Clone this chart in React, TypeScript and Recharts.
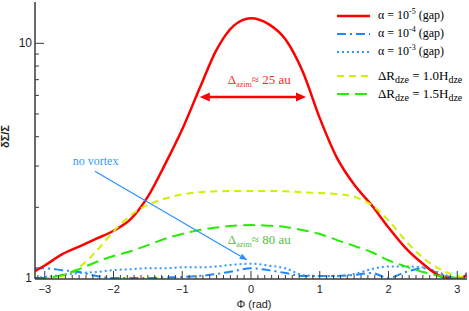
import React from 'react';
import { ComposedChart, Line, XAxis, YAxis, Legend, ReferenceLine, ReferenceDot, Label } from 'recharts';

// azimuthal angle (rad)
const PHI = [-3.14, -3.0, -2.75, -2.5, -2.25, -2.0, -1.75, -1.5, -1.25, -1.0, -0.75, -0.5, -0.25, 0, 0.25, 0.5, 0.75, 1.0, 1.25, 1.5, 1.75, 2.0, 2.25, 2.5, 2.75, 3.0, 3.14];
// alpha = 1e-5 (gap)
const GAP5 = [1.07, 1.13, 1.26, 1.36, 1.47, 1.59, 1.78, 2.22, 3.05, 4.3, 6.4, 9.4, 11.9, 12.8, 12.1, 10.4, 7.6, 4.8, 3.25, 2.5, 2.05, 1.64, 1.34, 1.15, 1.02, 0.99, 1.03];
// alpha = 1e-4 (gap)
const GAP4 = [1.10, 1.10, 1.08, 1.06, 1.02, 1.0, 1.0, 1.0, 1.005, 1.01, 1.02, 1.04, 1.07, 1.10, 1.08, 1.05, 1.02, 1.02, 1.02, 1.03, 1.05, 1.0, 1.06, 1.10, 1.04, 1.0, 1.05];
// alpha = 1e-3 (gap)
const GAP3 = [1.0, 1.01, 1.03, 1.05, 1.06, 1.08, 1.09, 1.10, 1.10, 1.11, 1.11, 1.12, 1.14, 1.15, 1.13, 1.10, 1.03, 1.02, 1.02, 1.04, 1.09, 1.12, 1.12, 1.11, 1.05, 1.0, 1.01];
// dR_dze = 1.0 H_dze
const DZE10 = [1.0, 1.0, 1.02, 1.11, 1.30, 1.58, 1.85, 2.05, 2.18, 2.27, 2.32, 2.34, 2.35, 2.35, 2.35, 2.34, 2.32, 2.30, 2.28, 2.22, 2.05, 1.76, 1.44, 1.22, 1.09, 1.02, 1.0];
// dR_dze = 1.5 H_dze
const DZE15 = [1.0, 1.0, 1.03, 1.09, 1.17, 1.24, 1.30, 1.38, 1.47, 1.54, 1.60, 1.64, 1.67, 1.68, 1.67, 1.65, 1.60, 1.54, 1.45, 1.37, 1.29, 1.19, 1.12, 1.06, 1.02, 1.0, 1.0];

const X_MAJOR = [-3, -2, -1, 0, 1, 2, 3];
const X_TICKS: number[] = [];
for (let i = -31; i <= 31; i++) X_TICKS.push(i / 10);
const Y_TICKS = [1, 2, 3, 4, 5, 6, 7, 8, 9, 10];
const Y_LABELED = [1, 10];
const X_DOMAIN = [-Math.PI, Math.PI];
const Y_DOMAIN = [0.99, 15];

// annotations (data coordinates)
const RED_ARROW = [{ x: -0.745, y: 5.9 }, { x: 0.8, y: 5.9 }];
const BLUE_ARROW = [{ x: -2.27, y: 2.85 }, { x: -0.05, y: 1.19 }];
const RED_TEXT = { x: 0.12, y: 6.7, main: '25 au' };
const GREEN_TEXT = { x: 0.12, y: 1.40, main: '80 au' };
const BLUE_TEXT = { x: -2.26, y: 3.03, text: 'no vortex' };

const data = PHI.map((p, i) => ({ phi: p, gap5: GAP5[i], gap4: GAP4[i], gap3: GAP3[i], dze10: DZE10[i], dze15: DZE15[i] }));

const SERIES = [
  { key: 'gap5', color: '#ff0000', width: 2.5, dash: undefined, kind: 'alpha', exp: '-5' },
  { key: 'gap4', color: '#1e88ff', width: 2, dash: '9 4 2 4', kind: 'alpha', exp: '-4' },
  { key: 'gap3', color: '#3399ff', width: 2, dash: '2 3', kind: 'alpha', exp: '-3' },
  { key: 'dze10', color: '#ccf200', width: 2, dash: '7 5', kind: 'dze', val: '1.0' },
  { key: 'dze15', color: '#22ee00', width: 2, dash: '12 6', kind: 'dze', val: '1.5' },
];
const DRAW_ORDER = ['gap4', 'gap3', 'gap5', 'dze10', 'dze15'];

const AX = '#3a3a3a';
const SANS = 'Liberation Sans, Arial, sans-serif';
const SERIF = 'Liberation Serif, Times New Roman, serif';

const fmtX = (v: number) => (v < 0 ? '\u2212' + Math.abs(v) : String(v));
const isMajorX = (v: number) => X_MAJOR.some((m) => Math.abs(m - v) < 1e-6);

const BottomTick = (p: any) => {
  const { x, y, payload } = p;
  const major = isMajorX(payload.value);
  return (
    <g>
      <line x1={x} x2={x} y1={y} y2={y - (major ? 8 : 4)} stroke={AX} strokeWidth={1} />
      {major && (
        <text x={x} y={y + 14} textAnchor="middle" fontSize={11} fontFamily={SANS} fill="#222">
          {fmtX(payload.value)}
        </text>
      )}
    </g>
  );
};
const TopTick = (p: any) => {
  const { x, y, payload } = p;
  const major = isMajorX(payload.value);
  return <line x1={x} x2={x} y1={y} y2={y + (major ? 8 : 4)} stroke={AX} strokeWidth={1} />;
};
const LeftTick = (p: any) => {
  const { x, y, payload } = p;
  const major = Y_LABELED.includes(payload.value);
  return (
    <g>
      <line x1={x} x2={x + (major ? 9 : 4)} y1={y} y2={y} stroke={AX} strokeWidth={1} />
      {major && (
        <text x={x - 3} y={y + 4} textAnchor="end" fontSize={12} fontFamily={SANS} fill="#222">
          {payload.value}
        </text>
      )}
    </g>
  );
};
const RightTick = (p: any) => {
  const { x, y, payload } = p;
  const major = Y_LABELED.includes(payload.value);
  return <line x1={x} x2={x - (major ? 9 : 4)} y1={y} y2={y} stroke={AX} strokeWidth={1} />;
};

const DoubleArrow = (p: any) => {
  const { x1, y1, x2, y2 } = p;
  const h = 10, w = 4.5;
  return (
    <g>
      <line x1={x1 + h - 2} y1={y1} x2={x2 - h + 2} y2={y2} stroke="#ff0000" strokeWidth={2.5} />
      <polygon points={`${x1},${y1} ${x1 + h},${y1 - w} ${x1 + h},${y1 + w}`} fill="#ff0000" />
      <polygon points={`${x2},${y2} ${x2 - h},${y2 - w} ${x2 - h},${y2 + w}`} fill="#ff0000" />
    </g>
  );
};
const SingleArrow = (p: any) => {
  const { x1, y1, x2, y2 } = p;
  const a = Math.atan2(y2 - y1, x2 - x1);
  const h = 8, w = 3;
  const bx = x2 - h * Math.cos(a), by = y2 - h * Math.sin(a);
  const px = -Math.sin(a) * w, py = Math.cos(a) * w;
  return (
    <g>
      <line x1={x1} y1={y1} x2={bx} y2={by} stroke="#2e90ff" strokeWidth={1.2} />
      <polygon points={`${x2},${y2} ${bx + px},${by + py} ${bx - px},${by - py}`} fill="#2e90ff" />
    </g>
  );
};

const deltaLabel = (color: string, main: string) => (props: any) => {
  const vb = props.viewBox || {};
  const cx = vb.x + (vb.width || 0) / 2;
  const cy = vb.y + (vb.height || 0) / 2;
  return (
    <text x={cx} y={cy} textAnchor="middle" fontSize={13} fontFamily={SERIF} fill={color}>
      {'\u0394'}
      <tspan fontSize={8} dy={3}>azim</tspan>
      <tspan dy={-3}>{'\u2248 ' + main}</tspan>
    </text>
  );
};
const plainLabel = (color: string, txt: string) => (props: any) => {
  const vb = props.viewBox || {};
  const cx = vb.x + (vb.width || 0) / 2;
  const cy = vb.y + (vb.height || 0) / 2;
  return (
    <text x={cx} y={cy} textAnchor="middle" fontSize={12} fontFamily={SERIF} fill={color}>
      {txt}
    </text>
  );
};

const renderLegend = () => (
  <div style={{ fontFamily: SERIF, fontSize: 12, color: '#000' }}>
    {SERIES.map((s, i) => (
      <div key={s.key} style={{ display: 'flex', alignItems: 'center', height: 18, marginTop: i === 3 ? 6 : 0, whiteSpace: 'nowrap' }}>
        <svg width={43} height={18} style={{ flex: 'none' }}>
          <line x1={2} x2={35} y1={9} y2={9} stroke={s.color} strokeWidth={s.width} strokeDasharray={s.dash} />
        </svg>
        {s.kind === 'alpha' ? (
          <span>
            {'\u03b1 = 10'}
            <span style={{ fontSize: 8, position: 'relative', top: -5 }}>{s.exp}</span>
            {' (gap)'}
          </span>
        ) : (
          <span style={{ fontSize: 13 }}>
            {'\u0394R'}
            <span style={{ fontSize: 10, position: 'relative', top: 3 }}>dze</span>
            {' = ' + s.val + 'H'}
            <span style={{ fontSize: 10, position: 'relative', top: 3 }}>dze</span>
          </span>
        )}
      </div>
    ))}
  </div>
);

const YLabel = (props: any) => {
  const vb = props.viewBox;
  const cx = vb.x + 9;
  const cy = vb.y + vb.height / 2 - 4;
  return (
    <text transform={`translate(${cx},${cy}) rotate(-90)`} textAnchor="middle" fontSize={11} fontWeight="bold" fontFamily={SANS} fill="#222">
      {'\u03b4\u03a3/\u03a3'}
    </text>
  );
};
const XLabel = (props: any) => {
  const vb = props.viewBox;
  return (
    <text x={vb.x + vb.width / 2 + 3} y={vb.y + 29} textAnchor="middle" fontSize={11} fontFamily={SANS} fill="#222">
      {'\u03a6 (rad)'}
    </text>
  );
};

export default function App() {
  return (
    <div style={{ position: 'absolute', left: 0, top: 0, width: 469, height: 311, background: '#fff' }}>
      <ComposedChart width={469} height={311} data={data} margin={{ top: 2, right: 2, left: 0, bottom: 0 }}>
        <XAxis
          dataKey="phi"
          type="number"
          domain={X_DOMAIN}
          allowDataOverflow
          ticks={X_TICKS}
          interval={0}
          tick={<BottomTick />}
          tickLine={false}
          tickSize={0}
          tickMargin={0}
          height={32}
          axisLine={{ stroke: AX, strokeWidth: 1.5 }}
          label={<Label content={<XLabel />} />}
        />
        <XAxis
          xAxisId="top"
          orientation="top"
          dataKey="phi"
          type="number"
          domain={X_DOMAIN}
          allowDataOverflow
          ticks={X_TICKS}
          interval={0}
          tick={<TopTick />}
          tickLine={false}
          tickSize={0}
          tickMargin={0}
          height={0}
          axisLine={{ stroke: AX, strokeWidth: 1.5 }}
        />
        <YAxis
          type="number"
          scale="log"
          domain={Y_DOMAIN}
          allowDataOverflow
          ticks={Y_TICKS}
          interval={0}
          tick={<LeftTick />}
          tickLine={false}
          tickSize={0}
          tickMargin={0}
          width={35}
          axisLine={{ stroke: AX, strokeWidth: 1.5 }}
          label={<Label content={<YLabel />} />}
        />
        <YAxis
          yAxisId="right"
          orientation="right"
          type="number"
          scale="log"
          domain={Y_DOMAIN}
          allowDataOverflow
          ticks={Y_TICKS}
          interval={0}
          tick={<RightTick />}
          tickLine={false}
          tickSize={0}
          tickMargin={0}
          width={0}
          axisLine={{ stroke: AX, strokeWidth: 1.5 }}
        />
        {DRAW_ORDER.map((k) => {
          const s = SERIES.find((q) => q.key === k)!;
          return (
            <Line
              key={k}
              dataKey={k}
              type="monotone"
              stroke={s.color}
              strokeWidth={s.width}
              strokeDasharray={s.dash}
              dot={false}
              activeDot={false}
              isAnimationActive={false}
            />
          );
        })}
        <ReferenceLine segment={RED_ARROW} shape={<DoubleArrow />} ifOverflow="visible" />
        <ReferenceLine segment={BLUE_ARROW} shape={<SingleArrow />} ifOverflow="visible" />
        <ReferenceDot x={RED_TEXT.x} y={RED_TEXT.y} r={0} fill="none" stroke="none" ifOverflow="visible" label={<Label content={deltaLabel('#ff2a2a', RED_TEXT.main)} />} />
        <ReferenceDot x={GREEN_TEXT.x} y={GREEN_TEXT.y} r={0} fill="none" stroke="none" ifOverflow="visible" label={<Label content={deltaLabel('#55c040', GREEN_TEXT.main)} />} />
        <ReferenceDot x={BLUE_TEXT.x} y={BLUE_TEXT.y} r={0} fill="none" stroke="none" ifOverflow="visible" label={<Label content={plainLabel('#3399ff', BLUE_TEXT.text)} />} />
        <Legend
          content={renderLegend}
          layout="vertical"
          align="center"
          verticalAlign="middle"
          wrapperStyle={{ left: 335, top: 6.7, width: 140, bottom: 'auto', right: 'auto' }}
        />
      </ComposedChart>
    </div>
  );
}
